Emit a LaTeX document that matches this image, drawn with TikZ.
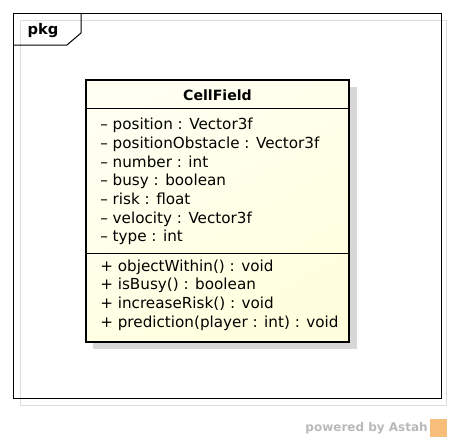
\documentclass[tikz,border=0pt]{standalone}
\usepackage{fontspec}
\setmainfont{DejaVu Sans}
\usepackage{tikz}

\definecolor{classfill}{RGB}{255,255,222}
\definecolor{shadowgray}{RGB}{215,215,215}
\definecolor{framegray}{RGB}{220,220,220}
\definecolor{astahgray}{RGB}{185,185,185}
\definecolor{astahorange}{RGB}{246,190,120}

\begin{document}
\begin{tikzpicture}[x=0.75pt, y=-0.75pt, every node/.style={inner sep=0pt, font=\fontsize{11.4}{14}\selectfont},
    member/.style={anchor=north west, align=left}]
        \useasboundingbox (0,0) rectangle (453,440);
        \draw[framegray, line width=0.75pt] (20,20) rectangle (446,405);
        \draw[line width=0.75pt] (13,13) rectangle (441,398);
        \draw[line width=0.75pt] (13,45) -- (67,45) -- (81,33) -- (81,13);
        \node[font=\fontsize{11}{13}\selectfont\bfseries] (pkg) at (43,31) {pkg};
        \fill[shadowgray] (93,87) rectangle (357,349);
        \shade[top color=classfill!40, bottom color=classfill, shading angle=30] (86,80) rectangle (349,342);
        \draw[line width=0.75pt] (86,108) -- (349,108);
        \draw[line width=0.75pt] (86,253) -- (349,253);
        \draw[line width=2pt] (86,80) rectangle (349,342);
        \node[font=\fontsize{10.6}{13}\selectfont\bfseries] (name) at (217.5,95) {CellField};
        \node[member] (attrs) at (100,118) {-- position : Vector3f\\ -- positionObstacle : Vector3f\\ -- number : int\\ -- busy : boolean\\ -- risk : float\\ -- velocity : Vector3f\\ -- type : int};
        \node[member] (ops) at (100,259.5) {+ objectWithin() : void\\ + isBusy() : boolean\\ + increaseRisk() : void\\ + prediction(player : int) : void};
        \node[anchor=east, text=astahgray, font=\fontsize{9}{11}\selectfont\bfseries] (powered) at (428,428) {powered by Astah};
        \fill[astahorange] (430,419) rectangle (447,437);
\end{tikzpicture}
\end{document}
